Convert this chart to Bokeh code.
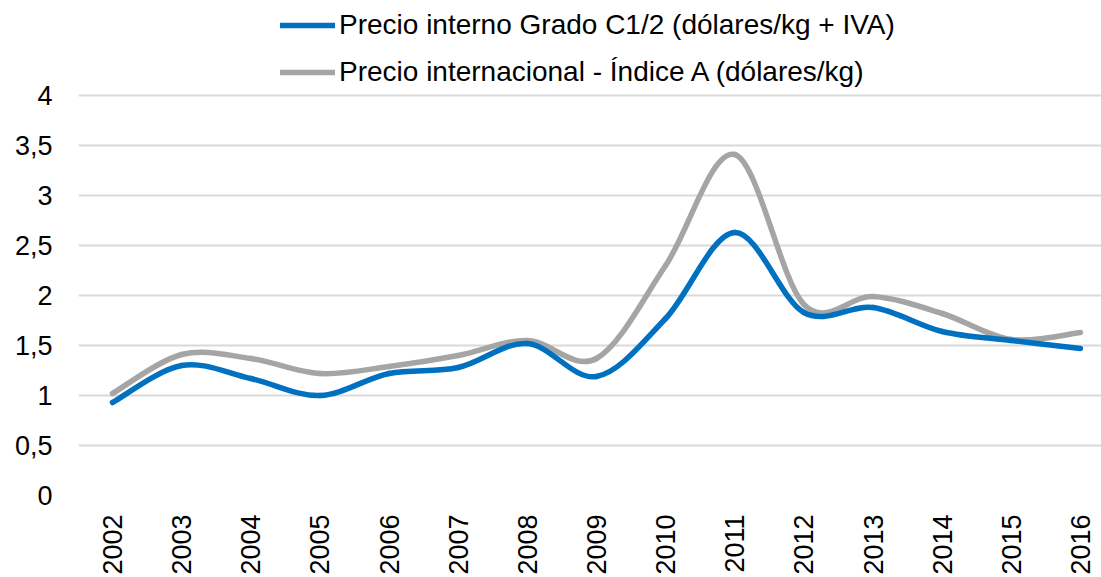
import numpy as np
from bokeh.plotting import figure
from bokeh.models import FixedTicker, Legend, LegendItem, Range1d, ColumnDataSource
from bokeh.embed import file_html
from bokeh.resources import INLINE

years = ["2002", "2003", "2004", "2005", "2006", "2007", "2008", "2009",
         "2010", "2011", "2012", "2013", "2014", "2015", "2016"]
interno = [0.93, 1.30, 1.17, 1.00, 1.22, 1.28, 1.52, 1.19, 1.77, 2.63, 1.83, 1.88, 1.64, 1.55, 1.47]
internacional = [1.02, 1.41, 1.37, 1.22, 1.29, 1.40, 1.55, 1.37, 2.30, 3.41, 1.91, 1.99, 1.82, 1.56, 1.63]
y_ticks = [0, 0.5, 1, 1.5, 2, 2.5, 3, 3.5, 4]
name_interno = "Precio interno Grado C1/2 (dólares/kg + IVA)"
name_internacional = "Precio internacional - Índice A (dólares/kg)"

FONT = "Liberation Sans"
FS = "27px"


def smooth_segments(vals):
    """Bezier control points (Catmull-Rom style) for a smoothed line through the points."""
    x = np.arange(len(vals), dtype=float)
    y = np.asarray(vals, dtype=float)
    xp = np.concatenate([[x[0]], x, [x[-1]]])
    yp = np.concatenate([[y[0]], y, [y[-1]]])
    n = len(vals) - 1
    d = dict(x0=[], y0=[], x1=[], y1=[], cx0=[], cy0=[], cx1=[], cy1=[])
    for i in range(n):
        p0x, p0y = xp[i], yp[i]
        p1x, p1y = xp[i + 1], yp[i + 1]
        p2x, p2y = xp[i + 2], yp[i + 2]
        p3x, p3y = xp[i + 3], yp[i + 3]
        d["x0"].append(p1x); d["y0"].append(p1y)
        d["x1"].append(p2x); d["y1"].append(p2y)
        d["cx0"].append(p1x + (p2x - p0x) / 6.0); d["cy0"].append(p1y + (p2y - p0y) / 6.0)
        d["cx1"].append(p2x - (p3x - p1x) / 6.0); d["cy1"].append(p2y - (p3y - p1y) / 6.0)
    return ColumnDataSource(d)


p = figure(width=1101, height=577, output_backend="svg", toolbar_location=None,
           x_range=Range1d(-0.4918, 14.304), y_range=Range1d(0, 4.95),
           min_border_left=78, min_border_right=0, min_border_top=0, min_border_bottom=82)
p.outline_line_color = None
p.background_fill_color = "white"
p.border_fill_color = "white"

r_int = p.bezier(x0="x0", y0="y0", x1="x1", y1="y1", cx0="cx0", cy0="cy0", cx1="cx1", cy1="cy1",
                 source=smooth_segments(internacional), line_color="#A5A5A5", line_width=5.5,
                 line_cap="round", line_join="round")
r_dom = p.bezier(x0="x0", y0="y0", x1="x1", y1="y1", cx0="cx0", cy0="cy0", cx1="cx1", cy1="cy1",
                 source=smooth_segments(interno), line_color="#0070C0", line_width=5.5,
                 line_cap="round", line_join="round")

# axes
p.xaxis.ticker = FixedTicker(ticks=list(range(len(years))))
p.xaxis.major_label_overrides = {i: y for i, y in enumerate(years)}
p.xaxis.major_label_orientation = np.pi / 2
p.yaxis.ticker = FixedTicker(ticks=y_ticks)
p.yaxis.major_label_overrides = {t: (f"{t:g}".replace(".", ",")) for t in y_ticks}
for ax in (p.xaxis[0], p.yaxis[0]):
    ax.axis_line_color = None
    ax.major_tick_line_color = None
    ax.minor_tick_line_color = None
    ax.major_tick_out = 0
    ax.major_tick_in = 0
    ax.minor_tick_out = 0
    ax.minor_tick_in = 0
    ax.axis_label_standoff = 0
    ax.major_label_text_font = FONT
    ax.major_label_text_font_size = FS
    ax.major_label_text_color = "#000000"
p.xaxis.major_label_standoff = 19
p.yaxis.major_label_standoff = 26

p.xgrid.grid_line_color = None
p.ygrid.grid_line_color = "#D9D9D9"
p.ygrid.grid_line_width = 2
p.ygrid.ticker = FixedTicker(ticks=y_ticks)

legend = Legend(items=[LegendItem(label=name_interno, renderers=[r_dom]),
                       LegendItem(label=name_internacional, renderers=[r_int])],
                location=(202, 407), orientation="vertical",
                glyph_width=55, glyph_height=30, label_height=30, spacing=15,
                label_standoff=4, padding=0, margin=0,
                border_line_color=None, background_fill_alpha=0,
                label_text_font=FONT, label_text_font_size="28px", label_text_color="#000000")
p.add_layout(legend, "center")

open("out.html", "w").write(file_html(p, INLINE))
